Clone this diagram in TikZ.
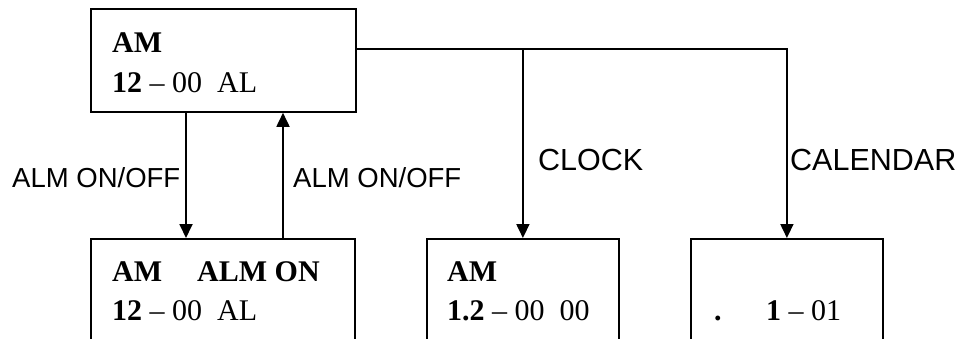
\documentclass[tikz,border=0pt]{standalone}
\usepackage{fontspec}
\setmainfont{Liberation Serif}
\newfontfamily\labfont{Liberation Sans}
\usetikzlibrary{arrows.meta}
\begin{document}
\begin{tikzpicture}[x=1pt,y=-1pt,
  box/.style={draw, line width=1.8pt, rectangle, anchor=north west, inner sep=0pt},
  disp/.style={anchor=base west, inner sep=0pt, font=\fontsize{30}{34}\selectfont},
  lab/.style={anchor=base west, inner sep=0pt, font=\labfont\fontsize{27.5}{31}\selectfont},
  biglab/.style={anchor=base west, inner sep=0pt, font=\labfont\fontsize{30.5}{34}\selectfont},
  conn/.style={line width=1.8pt},
  arr/.style={conn, -{Triangle[length=14pt,width=13pt]}}]
\useasboundingbox (0,0) rectangle (968,338);
\clip (0,0) rectangle (968,338);
\node[box, minimum width=265pt, minimum height=103pt] (top) at (90,8) {};
\node[box, minimum width=264pt, minimum height=130pt] (alm) at (90,238) {};
\node[box, minimum width=192pt, minimum height=130pt] (clk) at (426,238) {};
\node[box, minimum width=192pt, minimum height=130pt] (cal) at (690,238) {};
\coordinate (a1) at (186,0);
\coordinate (a2) at (283,0);
\coordinate (bus) at (0,49);
\draw[arr] (top.south -| a1) -- (alm.north -| a1);
\draw[arr] (alm.north -| a2) -- (top.south -| a2);
\draw[arr] (top.east |- bus) -| (cal.north);
\draw[arr] (clk.north |- bus) -- (clk.north);
\node[lab] (l1) at (12,187) {ALM ON/OFF};
\node[lab] (l2) at (293,187) {ALM ON/OFF};
\node[biglab] (l3) at (538,170) {CLOCK};
\node[biglab] (l4) at (790,170) {CALENDAR};
\node[disp] (t1) at (112,52) {\textbf{AM}};
\node[disp] (t2) at (112,92) {\textbf{12} – 00\ \ AL};
\node[disp] (t3) at (112,281) {\textbf{AM}};
\node[disp] (t4) at (197,281) {\textbf{ALM ON}};
\node[disp] (t5) at (112,320) {\textbf{12} – 00\ \ AL};
\node[disp] (t6) at (447,281) {\textbf{AM}};
\node[disp] (t7) at (447,320) {\textbf{1.2} – 00\ \ 00};
\node[disp] (t8) at (714,320) {\textbf{.}};
\node[disp] (t9) at (766,320) {\textbf{1} – 01};
\end{tikzpicture}
\end{document}
